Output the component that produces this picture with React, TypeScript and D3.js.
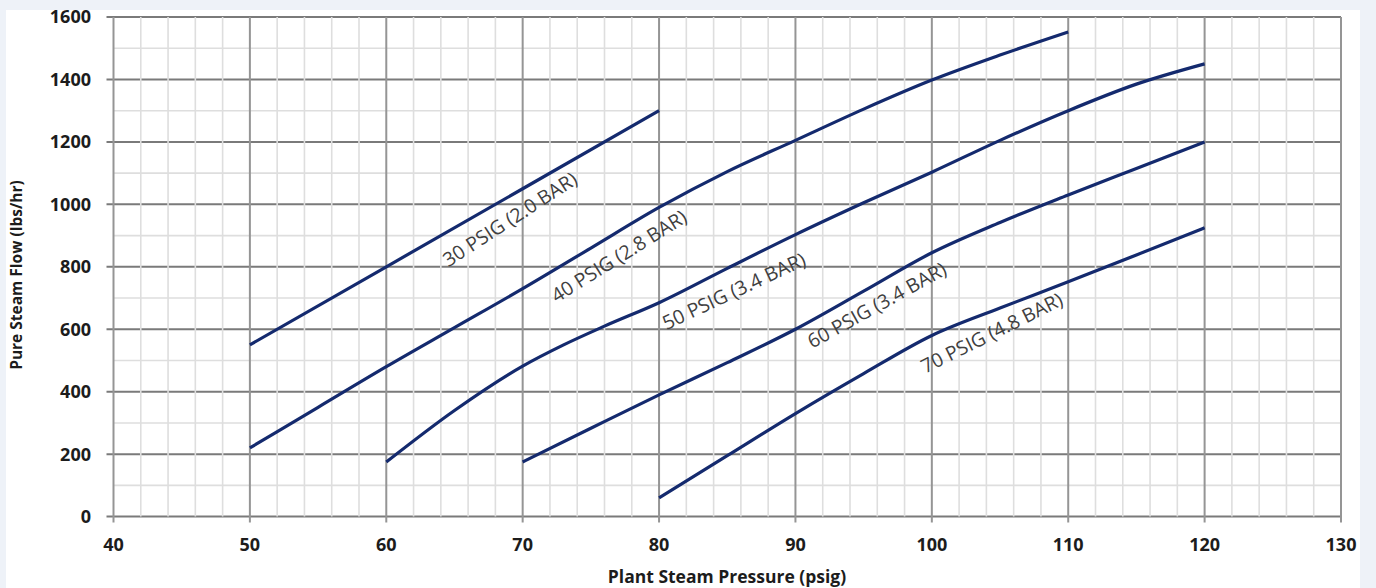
import React from "react";
import * as d3 from "d3";

// ---- data ----
const xTicks = [40, 50, 60, 70, 80, 90, 100, 110, 120, 130];
const yTicks = [0, 200, 400, 600, 800, 1000, 1200, 1400, 1600];

const psig30: [number, number][] = [[50, 550], [60, 800], [70, 1050], [80, 1300]];
const psig40: [number, number][] = [
  [50, 220], [55, 350], [60, 480], [65, 605], [70, 730], [75, 860], [80, 990],
  [85, 1105], [90, 1205], [95, 1305], [100, 1398], [105, 1478], [110, 1552],
];
const psig50: [number, number][] = [
  [60, 175], [65, 340], [70, 482], [73, 550], [76, 610], [80, 685], [85, 795],
  [90, 903], [95, 1005], [100, 1103], [105, 1205], [110, 1300], [115, 1385], [120, 1450],
];
const psig60: [number, number][] = [
  [70, 175], [75, 283], [80, 390], [85, 493], [90, 600], [95, 722], [100, 845],
  [105, 942], [110, 1030], [115, 1115], [120, 1200],
];
const psig70: [number, number][] = [
  [80, 60], [85, 195], [90, 330], [95, 458], [100, 580], [105, 668], [110, 752],
  [115, 838], [120, 925],
];

const seriesNames = ["30 PSIG (2.0 BAR)", "40 PSIG (2.8 BAR)", "50 PSIG (3.4 BAR)", "60 PSIG (3.4 BAR)", "70 PSIG (4.8 BAR)"];
const seriesData = [psig30, psig40, psig50, psig60, psig70];
// label anchor in data units and rotation
const labelX = [69.07, 77.06, 85.49, 95.97, 104.4];
const labelY = [952, 834, 722, 677, 588];
const labelAngle = [33, 32, 25, 29, 26.5];

const xTitle = "Plant Steam Pressure (psig)";
const yTitle = "Pure Steam Flow (lbs/hr)";

export default function App() {
  const W = 1376, H = 588;
  const x = d3.scaleLinear().domain([40, 130]).range([113.5, 1341]);
  const y = d3.scaleLinear().domain([0, 1600]).range([516.6, 17]);

  const minorX = d3.range(40, 130.01, 2).filter((v) => v % 10 !== 0);
  const minorY = d3.range(0, 1600.01, 100).filter((v) => v % 200 !== 0);

  const line = d3
    .line<[number, number]>()
    .x((d) => x(d[0]))
    .y((d) => y(d[1]))
    .curve(d3.curveMonotoneX);

  const font = "'Open Sans', 'DejaVu Sans', sans-serif";

  return (
    <svg width={W} height={H} style={{ position: "absolute", left: 0, top: 0 }}>
      <rect x={0} y={0} width={W} height={H} fill="#eef2f8" />
      <rect x={6} y={10} width={1354} height={H - 10} fill="#ffffff" />

      {/* minor horizontal */}
      {minorY.map((v) => (
        <line key={"mh" + v} x1={x(40)} x2={x(130)} y1={y(v)} y2={y(v)} stroke="#dedede" strokeWidth={1.6} />
      ))}
      {/* major horizontal */}
      {yTicks.map((v) => (
        <line key={"Mh" + v} x1={x(40) - 7} x2={x(130)} y1={y(v)} y2={y(v)} stroke="#7a7a7a" strokeWidth={2} />
      ))}
      {/* minor vertical */}
      {minorX.map((v) => (
        <line key={"mv" + v} x1={x(v)} x2={x(v)} y1={y(1600)} y2={y(0)} stroke="#dedede" strokeWidth={1.6} />
      ))}
      {/* major vertical */}
      {xTicks.map((v) => (
        <line key={"Mv" + v} x1={x(v)} x2={x(v)} y1={y(1600)} y2={y(0) + 6} stroke="#959595" strokeWidth={2} />
      ))}

      {/* curves */}
      {seriesData.map((s, i) => (
        <path key={"s" + i} d={line(s) || ""} fill="none" stroke="#142a6e" strokeWidth={3.2} strokeLinecap="butt" />
      ))}

      {/* curve labels */}
      {seriesNames.map((n, i) => (
        <text
          key={"l" + i}
          transform={`translate(${x(labelX[i])},${y(labelY[i])}) rotate(${-labelAngle[i]})`}
          textAnchor="middle"
          dy="0.35em"
          fontFamily={font}
          fontSize={19.5}
          fill="#404040"
        >
          {n}
        </text>
      ))}

      {/* y tick labels */}
      {yTicks.map((v) => (
        <text key={"yt" + v} x={91} y={y(v)} dy="0.36em" textAnchor="end" fontFamily={font} fontWeight="bold" fontSize={18} fill="#1c1c1c">
          {v}
        </text>
      ))}
      {/* x tick labels */}
      {xTicks.map((v) => (
        <text key={"xt" + v} x={x(v)} y={551} textAnchor="middle" fontFamily={font} fontWeight="bold" fontSize={18} fill="#1c1c1c">
          {v}
        </text>
      ))}

      <text x={727} y={583} textAnchor="middle" fontFamily={font} fontWeight="bold" fontSize={17.5} fill="#1c1c1c">
        {xTitle}
      </text>
      <text transform="translate(22,275) rotate(-90)" textAnchor="middle" fontFamily={font} fontWeight="bold" fontSize={15.5} fill="#1c1c1c">
        {yTitle}
      </text>
    </svg>
  );
}
